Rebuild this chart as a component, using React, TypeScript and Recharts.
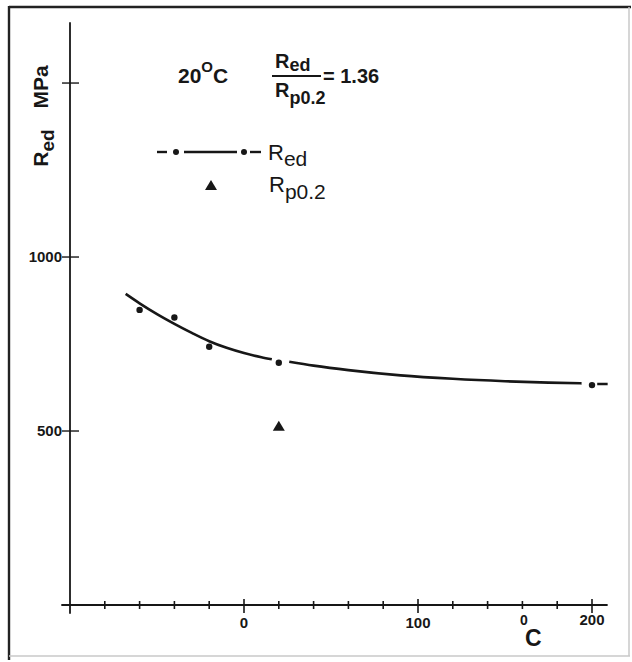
import React from 'react';
import { ComposedChart, Line, Scatter, XAxis, YAxis, ReferenceLine } from 'recharts';

// fitted curve for R_ed, split where the original line is interrupted
const curveLeft = [
  { x: -68, y: 894 },
  { x: -60, y: 867 },
  { x: -50, y: 836 },
  { x: -40, y: 808 },
  { x: -30, y: 782 },
  { x: -20, y: 758 },
  { x: -10, y: 739 },
  { x: 0, y: 724 },
  { x: 10, y: 712 },
  { x: 16, y: 706 },
];
const curveRight = [
  { x: 26, y: 699 },
  { x: 40, y: 688 },
  { x: 60, y: 675 },
  { x: 90, y: 660 },
  { x: 120, y: 650 },
  { x: 150, y: 643 },
  { x: 175, y: 639 },
  { x: 194, y: 637 },
];
const curveTail = [
  { x: 203, y: 635 },
  { x: 209, y: 635 },
];
// measured points
const redPoints = [
  { x: -60, y: 848 },
  { x: -40, y: 826 },
  { x: -20, y: 742 },
  { x: 20, y: 696 },
  { x: 200, y: 632 },
];
const rp02Points = [{ x: 20, y: 512 }];

const xTicks = [-80, -60, -40, -20, 0, 20, 40, 60, 80, 100, 120, 140, 160, 180, 200];
const xTickLabels = [0, 100, 200];
const yTicks = [500, 1000, 1500];
const yTickLabels = [500, 1000];

const INK = '#171717';
const FONT = '"Liberation Sans", Arial, Helvetica, sans-serif';

const renderXTick = (props: any) => {
  const { x, y, payload } = props;
  const v = payload.value;
  const major = v % 100 === 0;
  return (
    <g key={`xt-${v}`}>
      <line x1={x} x2={x} y1={y - (major ? 6 : 4)} y2={y + (major ? 8 : 4)} stroke={INK} strokeWidth={1.6} />
      {xTickLabels.includes(v) && (
        <text x={x} y={y + (v === 200 ? 20 : 23)} textAnchor="middle" fontFamily={FONT} fontWeight={700} fontSize={15} fill={INK}>
          {v}
        </text>
      )}
    </g>
  );
};

const renderYTick = (props: any) => {
  const { x, y, payload } = props;
  const v = payload.value;
  return (
    <g key={`yt-${v}`}>
      <line x1={x - 8} x2={x + 9} y1={y} y2={y} stroke={INK} strokeWidth={1.4} />
      {yTickLabels.includes(v) && (
        <text x={x - 8} y={y + 5} textAnchor="end" fontFamily={FONT} fontWeight={700} fontSize={15} fill={INK}>
          {v}
        </text>
      )}
    </g>
  );
};

const Dot = (props: any) => {
  const { cx, cy } = props;
  return <circle cx={cx} cy={cy} r={3.2} fill={INK} />;
};

const Tri = (props: any) => {
  const { cx, cy } = props;
  return <path d={`M${cx},${cy - 6} L${cx + 6},${cy + 4} L${cx - 6},${cy + 4} Z`} fill={INK} />;
};

export default function App() {
  return (
    <div style={{ position: 'absolute', left: 0, top: 0, width: 632, height: 662, background: '#fff' }}>
      <ComposedChart
        width={632}
        height={662}
        margin={{ top: 20.4, right: 22.6, bottom: 0, left: 0 }}
      >
        <XAxis
          type="number"
          dataKey="x"
          domain={[-100, 210]}
          ticks={xTicks}
          height={57}
          axisLine={false}
          tickLine={false}
          tickSize={0}
          tickMargin={0}
          tick={renderXTick}
          interval={0}
          allowDataOverflow
        />
        <YAxis
          type="number"
          dataKey="y"
          domain={[0, 1680]}
          ticks={yTicks}
          width={70}
          axisLine={false}
          tickLine={false}
          tickSize={0}
          tickMargin={0}
          tick={renderYTick}
          interval={0}
          allowDataOverflow
        />
        <ReferenceLine
          segment={[{ x: -105, y: 0 }, { x: 209, y: 0 }]}
          stroke={INK}
          strokeWidth={1.8}
          ifOverflow="visible"
        />
        <ReferenceLine
          segment={[{ x: -100, y: -25 }, { x: -100, y: 1675 }]}
          stroke={INK}
          strokeWidth={1.8}
          ifOverflow="visible"
        />
        <Line data={curveLeft} dataKey="y" type="monotone" stroke={INK} strokeWidth={2.6} dot={false} isAnimationActive={false} />
        <Line data={curveRight} dataKey="y" type="monotone" stroke={INK} strokeWidth={2.6} dot={false} isAnimationActive={false} />
        <Line data={curveTail} dataKey="y" type="linear" stroke={INK} strokeWidth={2.6} dot={false} isAnimationActive={false} />
        <Scatter data={redPoints} dataKey="y" shape={<Dot />} isAnimationActive={false} />
        <Scatter data={rp02Points} dataKey="y" shape={<Tri />} isAnimationActive={false} />
      </ComposedChart>

      <svg
        width={632}
        height={662}
        style={{ position: 'absolute', left: 0, top: 0, pointerEvents: 'none' }}
        fontFamily={FONT}
        fill={INK}
      >
        {/* frame */}
        <line x1={9} y1={7} x2={631} y2={7} stroke="#222" strokeWidth={2.4} />
        <line x1={9} y1={6} x2={9} y2={660} stroke="#222" strokeWidth={2.4} />
        <line x1={629} y1={7} x2={629} y2={656} stroke="#c8c8c8" strokeWidth={1.5} />
        <line x1={9} y1={656} x2={630} y2={656} stroke="#c8c8c8" strokeWidth={1.5} />

        {/* y axis title */}
        <text transform="translate(48,116) rotate(-90)" textAnchor="middle" fontSize={21} fontWeight={700}>
          R<tspan fontSize={19} dy={6}>ed</tspan>
          <tspan dy={-6}>{'\u2002\u2002MPa'}</tspan>
        </text>

        {/* 20 °C */}
        <text x={178} y={83} fontSize={21} fontWeight={700}>
          20<tspan fontSize={15} dy={-11}>O</tspan>
          <tspan dy={11}>C</tspan>
        </text>

        {/* ratio */}
        <text x={275} y={68} fontSize={20} fontWeight={700}>
          R<tspan fontSize={18} dy={3}>ed</tspan>
        </text>
        <line x1={272} y1={76} x2={321} y2={76} stroke={INK} strokeWidth={1.8} />
        <text x={275} y={97} fontSize={20} fontWeight={700}>
          R<tspan fontSize={18} dy={7}>p0.2</tspan>
        </text>
        <text x={323} y={83} fontSize={20} fontWeight={700}>
          = 1.36
        </text>

        {/* legend */}
        <line x1={157} y1={152} x2={167} y2={152} stroke={INK} strokeWidth={2.4} />
        <circle cx={176} cy={152} r={3} fill={INK} />
        <line x1={184} y1={152} x2={237} y2={152} stroke={INK} strokeWidth={2.4} />
        <circle cx={244} cy={152} r={3} fill={INK} />
        <line x1={250} y1={152} x2={261} y2={152} stroke={INK} strokeWidth={2.4} />
        <text x={268} y={160} fontSize={22}>
          R<tspan fontSize={21} dy={6}>ed</tspan>
        </text>
        <path d="M211,180 L217,190 L205,190 Z" fill={INK} />
        <text x={269} y={192} fontSize={22}>
          R<tspan fontSize={21} dy={7}>p0.2</tspan>
        </text>

        {/* x axis unit */}
        <text x={520} y={625} fontSize={14} fontWeight={700}>0</text>
        <text x={525} y={646} fontSize={23} fontWeight={700}>C</text>
      </svg>
    </div>
  );
}
